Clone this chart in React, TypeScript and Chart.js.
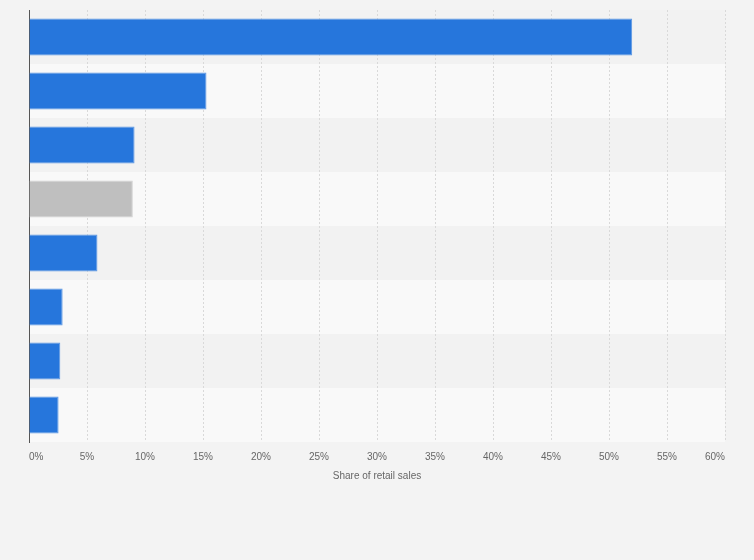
import React, { useEffect, useRef } from "react";
import { Chart, registerables } from "chart.js";

Chart.register(...registerables);

const categories = ["A", "B", "C", "D", "E", "F", "G", "H"];
const values = [52.0, 15.3, 9.1, 8.95, 5.9, 2.9, 2.7, 2.55];
const barColors = ["#2676DC", "#2676DC", "#2676DC", "#BFBFBF", "#2676DC", "#2676DC", "#2676DC", "#2676DC"];
const borderColors = ["#5C97E4", "#5C97E4", "#5C97E4", "#D2D2D2", "#5C97E4", "#5C97E4", "#5C97E4", "#5C97E4"];
const xTicks = [0, 5, 10, 15, 20, 25, 30, 35, 40, 45, 50, 55, 60];
const axisTitle = "Share of retail sales";

const bandsPlugin = {
  id: "bands",
  beforeDraw(chart: any) {
    const { ctx, chartArea, scales } = chart;
    const y = scales.y;
    ctx.save();
    categories.forEach((_, i) => {
      const c = y.getPixelForValue(i);
      const half = (y.getPixelForValue(1) - y.getPixelForValue(0)) / 2;
      ctx.fillStyle = i % 2 === 0 ? "#f2f2f2" : "#f9f9f9";
      ctx.fillRect(chartArea.left, c - half, chartArea.right - chartArea.left, half * 2);
    });
    ctx.restore();
  },
};

export default function App() {
  const ref = useRef<HTMLCanvasElement | null>(null);
  useEffect(() => {
    document.body.style.margin = "0";
    const chart = new Chart(ref.current!, {
      type: "bar",
      data: {
        labels: categories,
        datasets: [
          {
            data: values,
            backgroundColor: barColors,
            borderColor: borderColors,
            borderWidth: 1,
            categoryPercentage: 1,
            barPercentage: 0.686,
          },
        ],
      },
      options: {
        indexAxis: "y",
        animation: false,
        responsive: false,
        maintainAspectRatio: false,
        layout: { padding: { left: 29, right: 29, top: 10, bottom: 78 } },
        plugins: { legend: { display: false }, tooltip: { enabled: false } },
        scales: {
          x: {
            min: 0,
            max: 60,
            afterBuildTicks: (axis: any) => {
              axis.ticks = xTicks.map((v) => ({ value: v }));
            },
            ticks: {
              callback: (v: any) => v + "%",
              color: "#666",
              font: { family: "Liberation Sans, Arial", size: 10 },
              padding: 9,
              maxRotation: 0,
              align: "inner",
            },
            grid: { color: "#d9d9d9", lineWidth: 1, drawTicks: false },
            border: { display: false, dash: [2, 2] },
            title: {
              display: true,
              text: axisTitle,
              color: "#666",
              font: { family: "Liberation Sans, Arial", size: 10 },
              padding: { top: -2, bottom: 0 },
            },
          },
          y: {
            ticks: { display: false },
            grid: { display: false, drawTicks: false },
            border: { display: true, color: "#555", width: 1 },
          },
        },
      },
      plugins: [bandsPlugin],
    });
    return () => chart.destroy();
  }, []);
  return (
    <div style={{ width: 754, height: 560, background: "#f3f3f3" }}>
      <canvas ref={ref} width={754} height={560} style={{ display: "block" }} />
    </div>
  );
}
